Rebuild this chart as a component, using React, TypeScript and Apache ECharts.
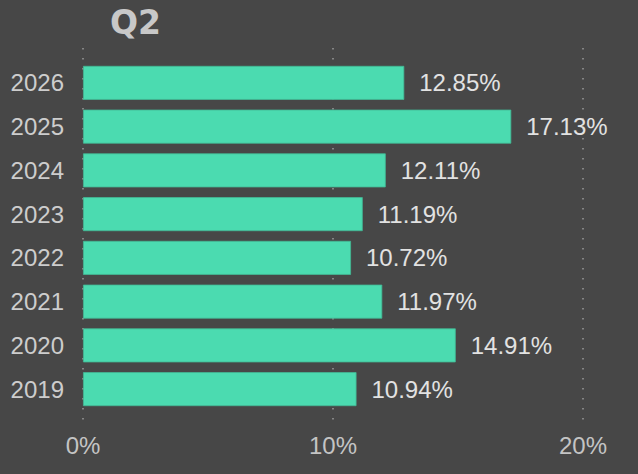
import React, { useEffect, useRef } from "react";
import * as echarts from "echarts";

const title = "Q2";
const years = ["2019", "2020", "2021", "2022", "2023", "2024", "2025", "2026"];
const values = [10.94, 14.91, 11.97, 10.72, 11.19, 12.11, 17.13, 12.85];
const xMin = 0;
const xMax = 20;
const xStep = 10;

export default function App() {
  const ref = useRef<HTMLDivElement>(null);
  useEffect(() => {
    if (!ref.current) return;
    const chart = echarts.init(ref.current, null, { renderer: "svg" });
    chart.setOption({
      animation: false,
      backgroundColor: "#474747",
      title: {
        text: title,
        left: 105,
        top: 1,
        textStyle: {
          fontFamily: "DejaVu Sans",
          fontWeight: "bold",
          fontSize: 33,
          color: "#c8c8c8",
        },
      },
      grid: [
        { left: 83, right: 55, top: 61, bottom: 63 },
        { left: 83, right: 55, top: 48, bottom: 49 },
      ],
      xAxis: [
        {
          gridIndex: 0,
          type: "value",
          min: xMin,
          max: xMax,
          interval: xStep,
          show: false,
          splitLine: { show: false },
        },
        {
          gridIndex: 1,
          type: "value",
          min: xMin,
          max: xMax,
          interval: xStep,
          axisLine: { show: false },
          axisTick: { show: false },
          splitLine: {
            show: true,
            lineStyle: { color: "#9a9a9a", width: 1.5, type: [1.5, 8.5] },
          },
          axisLabel: {
            formatter: "{value}%",
            color: "#c4c4c4",
            fontFamily: "Liberation Sans",
            fontSize: 24,
            margin: 8,
          },
        },
      ],
      yAxis: [
        {
          gridIndex: 0,
          type: "category",
          data: years,
          axisLine: { show: false },
          axisTick: { show: false },
          axisLabel: {
            color: "#cdcdcd",
            fontFamily: "Liberation Sans",
            fontSize: 24,
            margin: 19,
          },
        },
        {
          gridIndex: 1,
          type: "value",
          min: 0,
          max: 1,
          show: false,
          splitLine: { show: false },
        },
      ],
      series: [
        {
          type: "bar",
          xAxisIndex: 0,
          yAxisIndex: 0,
          data: values,
          barWidth: 34,
          itemStyle: {
            color: "#4bdbb0",
            borderColor: "#43b894",
            borderWidth: 0.8,
          },
          label: {
            show: true,
            position: "right",
            distance: 15,
            color: "#e2e2e2",
            fontFamily: "Liberation Sans",
            fontSize: 24,
            formatter: (p: any) => p.value.toFixed(2) + "%",
          },
        },
        {
          type: "scatter",
          xAxisIndex: 1,
          yAxisIndex: 1,
          data: [],
        },
      ],
    });
    return () => chart.dispose();
  }, []);
  return (
    <div
      ref={ref}
      style={{ position: "absolute", left: 0, top: 0, width: 638, height: 474 }}
    />
  );
}
